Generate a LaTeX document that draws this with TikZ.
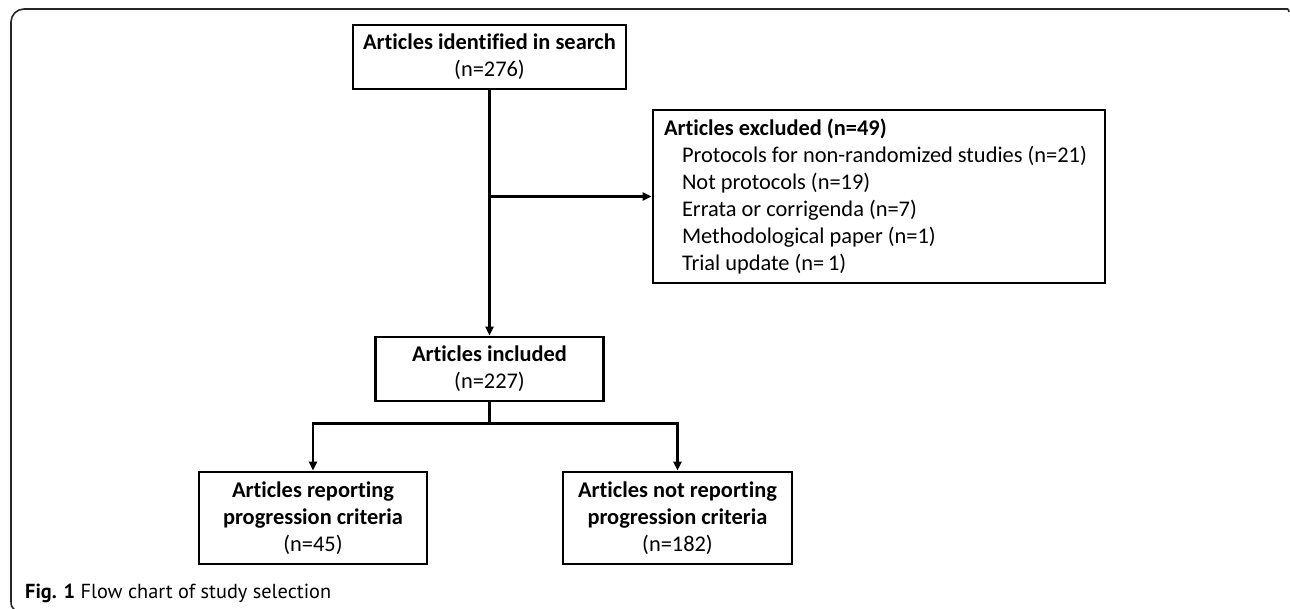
\documentclass[tikz,border=0pt]{standalone}
\usepackage{fontspec}
\setmainfont{Carlito}[RawFeature=-liga]
\newfontfamily\capfont{PT Sans}
\usetikzlibrary{arrows.meta,calc}
\begin{document}
\begin{tikzpicture}[x=1pt,y=-1pt,
  boxstyle/.style={draw=black, line width=2.6pt, fill=white, inner sep=0pt, align=center,
     font=\fontsize{22.4}{27}\selectfont},
  conn/.style={draw=black, line width=2.4pt},
  arr/.style={conn, -{Triangle[length=9pt,width=8pt]}},
  framestyle/.style={draw=black!85, line width=1.6pt}
]
\useasboundingbox (0,0) rectangle (1290,609);
% outer frame
\draw[framestyle, rounded corners=13pt] (11,602) -- (11,9) -- (1288,9);
\draw[framestyle] (1288,9) -- (1289,12);
\draw[framestyle] (11,601) .. controls (11,606) and (12,608) .. (14,609);

\node[boxstyle, minimum width=273pt, minimum height=64pt] (ident) at (489.5,57)
  {\textbf{Articles identified in search}\\(n=276)};
\node[boxstyle, minimum width=452pt, minimum height=173pt, text width=430pt, align=flush left] (excl) at (879,196.5)
  {\textbf{Articles excluded (n=49)}\\
   \hspace*{18pt}Protocols for non-randomized studies (n=21)\\
   \hspace*{18pt}Not protocols (n=19)\\
   \hspace*{18pt}Errata or corrigenda (n=7)\\
   \hspace*{18pt}Methodological paper (n=1)\\
   \hspace*{18pt}Trial update (n=\,1)};
\node[boxstyle, minimum width=228pt, minimum height=64pt] (incl) at (489.5,369)
  {\textbf{Articles included}\\(n=227)};
\node[boxstyle, minimum width=228pt, minimum height=92pt] (rep) at (313,518)
  {\textbf{Articles reporting}\\\textbf{progression criteria}\\(n=45)};
\node[boxstyle, minimum width=229pt, minimum height=92pt] (norep) at (677.5,518)
  {\textbf{Articles not reporting}\\\textbf{progression criteria}\\(n=182)};

\coordinate (br) at (ident.south |- excl.west);
\coordinate (split) at ($(incl.south)+(0,21)$);

\draw[arr] (ident.south) -- (incl.north);
\draw[arr] (br) -- (excl.west);
\draw[conn] (incl.south) -- (split);
\draw[arr] (split) -| (rep.north);
\draw[arr] (split) -| (norep.north);

\node[anchor=base west, inner sep=0pt, font=\capfont\fontsize{20.3}{24}\selectfont] (cap) at (25,598)
  {\textbf{Fig. 1} Flow chart of study selection};
\end{tikzpicture}
\end{document}
